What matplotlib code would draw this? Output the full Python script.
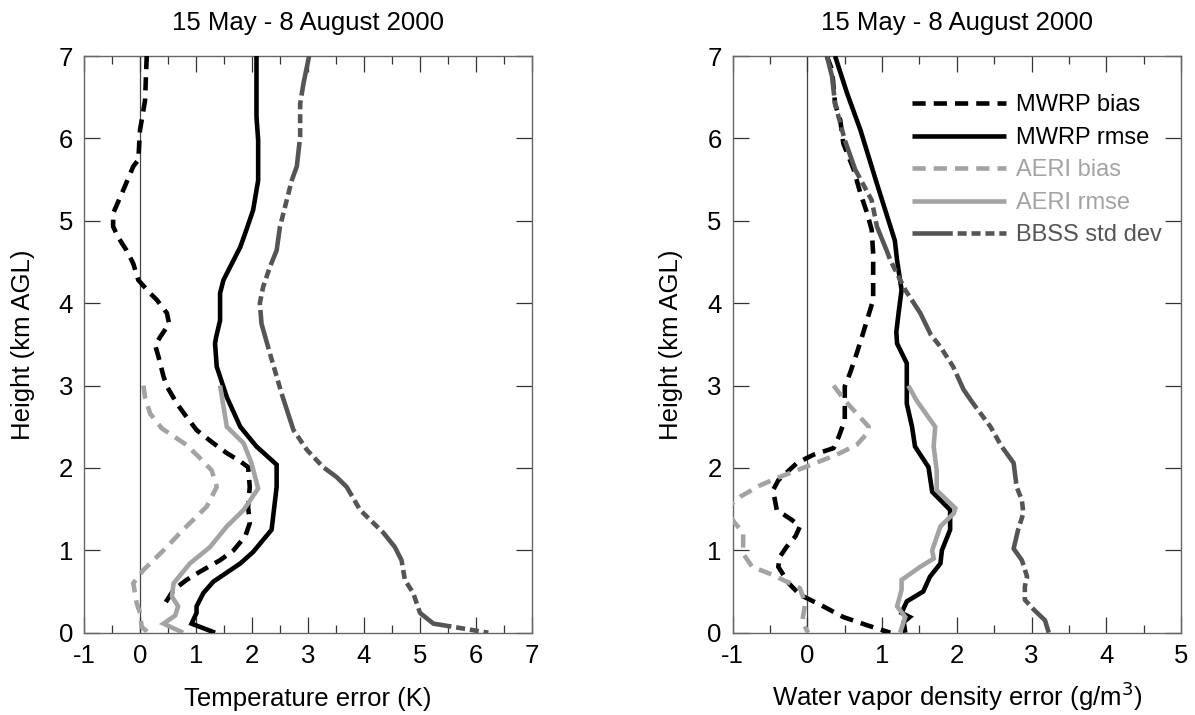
import matplotlib
matplotlib.use("Agg")
import matplotlib.pyplot as plt
from matplotlib.ticker import MultipleLocator

plt.rcParams['font.family'] = ['Liberation Sans', 'DejaVu Sans']
plt.rcParams['lines.scale_dashes'] = False
plt.rcParams['axes.unicode_minus'] = False

# ---------------- Data: left panel (temperature error, K) ----------------
mwrp_bias_T_x = [0.12, 0.09, 0.00, -0.03, -0.12, -0.30, -0.48, -0.48, -0.39, -0.24, -0.12, -0.03, 0.18, 0.30,
                 0.48, 0.52, 0.36, 0.27, 0.33, 0.42, 0.48, 0.66, 0.83, 1.01, 1.31, 1.55, 1.79, 1.93, 1.96, 1.93,
                 1.96, 1.88, 1.67, 1.43, 1.07, 0.83, 0.60, 0.45, 0.42]
mwrp_bias_T_h = [7.00, 6.46, 6.10, 5.74, 5.66, 5.37, 5.09, 4.93, 4.80, 4.64, 4.48, 4.28, 4.12, 4.04,
                 3.88, 3.75, 3.59, 3.49, 3.35, 3.11, 2.99, 2.78, 2.62, 2.46, 2.30, 2.18, 2.08, 2.01, 1.77, 1.53,
                 1.33, 1.17, 1.00, 0.88, 0.74, 0.64, 0.52, 0.36, 0.28]

mwrp_rmse_T_x = [2.08, 2.08, 2.11, 2.11, 2.02, 1.90, 1.79, 1.49, 1.43, 1.43, 1.36, 1.34, 1.37, 1.55, 1.79, 2.08,
                 2.44, 2.44, 2.35, 2.02, 1.79, 1.31, 1.13, 1.01, 1.01, 0.92, 1.34]
mwrp_rmse_T_h = [7.00, 6.26, 5.98, 5.49, 5.13, 4.89, 4.68, 4.28, 4.12, 3.79, 3.59, 3.51, 3.23, 2.86, 2.50, 2.26,
                 2.04, 1.77, 1.25, 0.98, 0.84, 0.62, 0.48, 0.32, 0.24, 0.11, 0.00]

aeri_bias_T_x = [0.06, 0.09, 0.18, 0.39, 0.83, 1.07, 1.28, 1.37, 1.19, 0.77, 0.42, 0.06, -0.12, -0.06, 0.00, 0.03, 0.15]
aeri_bias_T_h = [3.00, 2.86, 2.66, 2.48, 2.28, 2.12, 1.97, 1.77, 1.53, 1.25, 1.00, 0.76, 0.60, 0.36, 0.24, 0.07, 0.00]

aeri_rmse_T_x = [1.43, 1.55, 1.85, 1.99, 2.11, 1.85, 1.55, 1.25, 0.89, 0.60, 0.57, 0.68, 0.63, 0.42, 0.77]
aeri_rmse_T_h = [3.00, 2.50, 2.30, 2.06, 1.75, 1.49, 1.29, 1.04, 0.84, 0.60, 0.44, 0.32, 0.21, 0.11, 0.00]

bbss_T_x = [3.02, 2.92, 2.86, 2.86, 2.80, 2.71, 2.62, 2.50, 2.44, 2.32, 2.20, 2.14, 2.17, 2.32, 2.53, 2.74, 2.98,
            3.27, 3.51, 3.69, 3.93, 4.11, 4.35, 4.55, 4.67, 4.73, 4.88, 5.00, 5.24, 5.60, 6.22]
bbss_T_h = [7.00, 6.67, 6.42, 6.02, 5.66, 5.49, 5.25, 4.93, 4.64, 4.44, 4.20, 4.00, 3.75, 3.39, 2.90, 2.46, 2.22,
            2.01, 1.89, 1.77, 1.49, 1.37, 1.21, 1.04, 0.88, 0.64, 0.48, 0.24, 0.11, 0.07, 0.00]

# ---------------- Data: right panel (water vapor density error, g/m3) ----------------
mwrp_bias_q_x = [0.26, 0.33, 0.37, 0.44, 0.48, 0.62, 0.71, 0.80, 0.86, 0.88, 0.88, 0.88, 0.75, 0.66, 0.57, 0.50,
                 0.50, 0.50, 0.42, 0.35, 0.08, -0.14, -0.39, -0.46, -0.41, -0.21, -0.10, -0.16, -0.28, -0.37,
                 -0.39, -0.25, -0.10, 0.17, 0.48, 0.80, 1.11]
mwrp_bias_q_h = [7.00, 6.83, 6.42, 6.22, 5.94, 5.62, 5.33, 5.09, 4.89, 4.60, 4.28, 4.04, 3.65, 3.39, 3.15, 2.99,
                 2.82, 2.58, 2.38, 2.24, 2.16, 2.06, 1.85, 1.73, 1.49, 1.37, 1.29, 1.17, 1.04, 0.92,
                 0.80, 0.60, 0.46, 0.34, 0.19, 0.09, 0.00]

mwrp_rmse_q_x = [0.37, 0.53, 0.71, 0.93, 1.17, 1.20, 1.26, 1.22, 1.19, 1.20, 1.33, 1.33, 1.40, 1.44, 1.62, 1.67,
                 1.91, 1.91, 1.80, 1.78, 1.64, 1.55, 1.33, 1.26, 1.37, 1.29, 1.31]
mwrp_rmse_q_h = [7.00, 6.55, 6.10, 5.45, 4.76, 4.52, 4.16, 3.88, 3.65, 3.51, 3.27, 2.78, 2.50, 2.26, 2.01, 1.71,
                 1.49, 1.25, 1.00, 0.84, 0.68, 0.50, 0.38, 0.24, 0.19, 0.13, 0.00]

aeri_bias_q_x = [0.35, 0.50, 0.64, 0.82, 0.80, 0.66, 0.39, -0.03, -0.37, -0.63, -0.90, -1.10, -0.97, -0.86, -0.86,
                 -0.74, -0.46, -0.10, -0.03, -0.07, 0.01]
aeri_bias_q_h = [3.00, 2.82, 2.68, 2.50, 2.42, 2.28, 2.16, 2.01, 1.89, 1.79, 1.65, 1.50, 1.33, 1.21, 0.96,
                 0.80, 0.70, 0.54, 0.36, 0.13, 0.00]

aeri_rmse_q_x = [1.35, 1.46, 1.71, 1.69, 1.73, 1.73, 1.98, 1.96, 1.78, 1.67, 1.69, 1.51, 1.26, 1.26, 1.20, 1.31, 1.24]
aeri_rmse_q_h = [3.00, 2.82, 2.50, 2.26, 1.97, 1.73, 1.51, 1.45, 1.29, 1.00, 0.90, 0.80, 0.64, 0.52, 0.32, 0.19, 0.00]

bbss_q_x = [0.26, 0.33, 0.37, 0.50, 0.64, 0.86, 0.93, 1.06, 1.11, 1.31, 1.51, 1.65, 1.78, 1.95, 2.09, 2.22, 2.45,
            2.60, 2.76, 2.80, 2.87, 2.89, 2.82, 2.76, 2.87, 2.94, 2.91, 2.91, 3.03, 3.18, 3.23]
bbss_q_h = [7.00, 6.75, 6.42, 5.98, 5.62, 5.25, 4.93, 4.64, 4.52, 4.16, 3.88, 3.62, 3.47, 3.23, 2.95, 2.78, 2.50,
            2.26, 2.06, 1.77, 1.61, 1.45, 1.25, 1.02, 0.88, 0.68, 0.56, 0.40, 0.28, 0.15, 0.00]

labels = ['MWRP bias', 'MWRP rmse', 'AERI bias', 'AERI rmse', 'BBSS std dev']
titles = ['15 May - 8 August 2000', '15 May - 8 August 2000']
xlabels = ['Temperature error (K)', 'Water vapor density error (g/m$^{3}$)']
ylabel = 'Height (km AGL)'
xlims = [(-1, 7), (-1, 5)]

# ---------------- Styles ----------------
BLACK = '#000000'
LIGHT = '#a3a3a3'
DARK = '#555555'
LW = 3.3
DASH = (0, (9.5, 5.8))
DASHDOT = (0, (29, 3.5, 6.5, 3.5, 6.5, 3.5, 6.5, 3.5))
styles = [dict(color=BLACK, ls=DASH), dict(color=BLACK, ls='-'),
          dict(color=LIGHT, ls=DASH), dict(color=LIGHT, ls='-'),
          dict(color=DARK, ls=DASHDOT)]

FS = 18.5
fig = plt.figure(figsize=(11.95, 7.15), dpi=100)
ax1 = fig.add_axes([84 / 1195, 82.3 / 715, 448 / 1195, 576.7 / 715])
ax2 = fig.add_axes([732.7 / 1195, 82.3 / 715, 448.3 / 1195, 576.7 / 715])

panels = [
    (ax1, [(mwrp_bias_T_x, mwrp_bias_T_h), (mwrp_rmse_T_x, mwrp_rmse_T_h), (aeri_bias_T_x, aeri_bias_T_h),
           (aeri_rmse_T_x, aeri_rmse_T_h), (bbss_T_x, bbss_T_h)]),
    (ax2, [(mwrp_bias_q_x, mwrp_bias_q_h), (mwrp_rmse_q_x, mwrp_rmse_q_h), (aeri_bias_q_x, aeri_bias_q_h),
           (aeri_rmse_q_x, aeri_rmse_q_h), (bbss_q_x, bbss_q_h)]),
]
xlabel_y = [-0.094, -0.081]

SPINE = '#666666'
for i, (ax, series) in enumerate(panels):
    ax.axvline(0, color='#444444', lw=0.9, zorder=1)
    for (xs, hs), st, lab in zip(series, styles, labels):
        ax.plot(xs, hs, color=st['color'], linestyle=st['ls'], lw=LW, solid_capstyle='butt',
                dash_capstyle='butt', solid_joinstyle='miter', label=lab, zorder=3)
    ax.set_xlim(*xlims[i])
    ax.set_ylim(0, 7)
    ax.xaxis.set_major_locator(MultipleLocator(1))
    ax.xaxis.set_minor_locator(MultipleLocator(0.5))
    ax.yaxis.set_major_locator(MultipleLocator(1))
    ax.tick_params(axis='both', which='major', direction='in', length=11.5, width=0.9, color='#333333',
                   top=True, right=True, labelsize=FS, pad=8)
    ax.tick_params(axis='x', which='minor', direction='in', length=5.8, width=0.9, color='#333333',
                   top=True, bottom=True)
    for sp in ax.spines.values():
        sp.set_color(SPINE)
        sp.set_linewidth(1.0)
    ax.set_title(titles[i], fontsize=FS, pad=19)
    ax.set_xlabel(xlabels[i], fontsize=FS)
    ax.xaxis.set_label_coords(0.5, xlabel_y[i])
    ax.set_ylabel(ylabel, fontsize=FS)
    ax.yaxis.set_label_coords(-0.11, 0.5)

leg = ax2.legend(loc='upper left', bbox_to_anchor=(0.40, 0.9335), frameon=False, fontsize=17,
                 handlelength=4.0, handletextpad=0.42, labelspacing=0.445, borderpad=0, borderaxespad=0)
for txt, st in zip(leg.get_texts(), styles):
    txt.set_color(st['color'])

fig.savefig('out.png', dpi=100)
